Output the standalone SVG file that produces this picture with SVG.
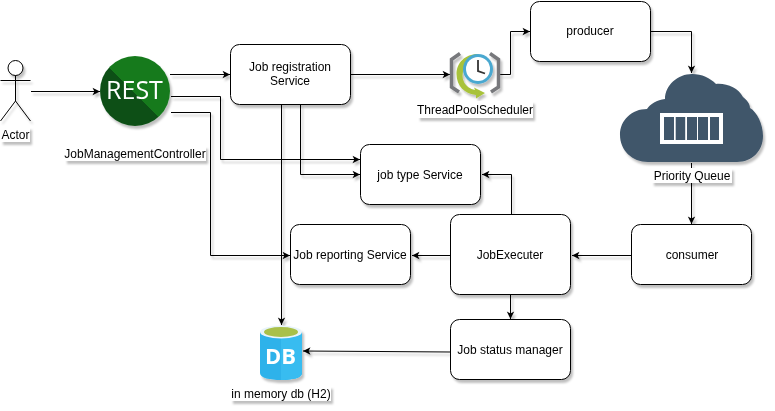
<svg xmlns="http://www.w3.org/2000/svg" width="775" height="411" viewBox="0 0 775 411">
<style>
text{font-family:"Liberation Sans",Arial,sans-serif;font-size:12px;fill:#000;text-anchor:middle}
.box{fill:#fff;stroke:#000;stroke-width:1}
.lbl{fill:#fff}
.c{fill:none;stroke:#000;stroke-width:1;marker-end:url(#a)}
.s{filter:url(#sh)}
</style>
<defs>
<marker id="a" markerUnits="userSpaceOnUse" markerWidth="10" markerHeight="10" refX="8" refY="4.5" orient="auto"><path d="M0.5 0.8L8 4.5L0.5 8.2L2.4 4.5Z" fill="#000"/></marker>
<filter id="sh" x="-20%" y="-20%" width="150%" height="150%"><feDropShadow dx="2" dy="3" stdDeviation="1.2" flood-color="#000" flood-opacity="0.25"/></filter>
<linearGradient id="rest" x1="0" y1="1" x2="1" y2="0"><stop offset="0.48" stop-color="#0b5016"/><stop offset="0.48" stop-color="#157a1c"/></linearGradient>
</defs>
<g id="connectors" class="s">
<path class="c" d="M31 91.500H100"/>
<path class="c" d="M170 74.500H230"/>
<path class="c" d="M171 96.500H220.500V159.500H360"/>
<path class="c" d="M171 112.500H210.500V255.500H290"/>
<path class="c" d="M281.500 104.500V325"/>
<path class="c" d="M300.500 104.500V174.500H360"/>
<path class="c" d="M351 74.500H450"/>
<path class="c" d="M500 74.500H510.500V31.500H530"/>
<path class="c" d="M650 31.500H691.500V73"/>
<path class="c" d="M691.500 163V224"/>
<path class="c" d="M632 255.500H572"/>
<path class="c" d="M451 255.500H412"/>
<path class="c" d="M511.500 215V174.500H482"/>
<path class="c" d="M510.500 295V319"/>
<path class="c" d="M451 352L303 351"/>
</g>
<g id="actor" class="s" fill="none" stroke="#000">
<circle cx="15.500" cy="68" r="7.500" fill="#fff"/>
<path d="M15.500 75.500V101M0.500 80.500H30.500M15.500 101L0.500 121M15.500 101L30.500 121"/>
</g>
<g id="actor-label" class="s"><rect class="lbl" x="1" y="127" width="29" height="15"/><text x="15.500" y="139">Actor</text></g>
<g id="rest" class="s">
<circle cx="135" cy="91" r="35" fill="url(#rest)"/>
<text x="134.500" y="99" style="font-family:'Open Sans','Noto Sans',sans-serif;font-size:25px;fill:#fff">REST</text>
</g>
<g id="controller-label" class="s"><rect class="lbl" x="65" y="146" width="141" height="15"/><text x="135" y="158">JobManagementController</text></g>
<g id="job-registration" class="s"><rect class="box" x="230.500" y="44.500" width="120" height="60" rx="9"/><text x="290" y="71">Job registration</text><text x="290" y="85">Service</text></g>
<g id="scheduler" class="s">
<path d="M460 53.500L451.500 59.500V87L459 92" fill="none" stroke="#77787b" stroke-width="3.500"/>
<path d="M490 53.500L498.500 59.500V87L491 92" fill="none" stroke="#77787b" stroke-width="3.500"/>
<path d="M478 54C465 54 456.500 63 456.500 74C456.500 86 465 94 476 95L476 98.500L485 93L474 87.500L475 90C470 89 466 86 464 82C460 74 464 62 478 54Z" fill="#a8c23a"/>
<circle cx="478" cy="69" r="15" fill="#4aa8d0"/>
<circle cx="478" cy="69" r="12" fill="#fff"/>
<path d="M478 60V71L485 73.500" fill="none" stroke="#333" stroke-width="1.800"/>
</g>
<g id="scheduler-label" class="s"><rect class="lbl" x="418" y="101" width="115" height="17"/><text x="475" y="114">ThreadPoolScheduler</text></g>
<g id="producer" class="s"><rect class="box" x="530.500" y="1.500" width="120" height="60" rx="9"/><text x="590" y="35">producer</text></g>
<g id="queue" class="s">
<path d="M648 162C632 162 620 150 620 135C620 120 632 109 647 109C650 104 657 100 665 99C665 85 678 74 692 74C702 74 710 78 716 84C727 83 738 88 743 97C747 100 750 104 750 108C757 112 763 124 763 136C763 151 752 162 737 162Z" fill="#40566a"/>
<rect x="660" y="113" width="63" height="31" fill="#fff"/>
<path d="M664 117h10v23h-10zM675.700 117h9.500v23h-9.500zM687 117h10v23h-10zM698 117h10v23h-10zM710 117h9v23h-9z" fill="#40566a"/>
</g>
<g id="queue-label" class="s"><rect class="lbl" x="652" y="168" width="80" height="15"/><text x="692" y="180">Priority Queue</text></g>
<g id="job-type" class="s"><rect class="box" x="360.500" y="144.500" width="120" height="60" rx="9"/><text x="420" y="179">job type Service</text></g>
<g id="job-reporting" class="s"><rect class="box" x="290.500" y="224.500" width="120" height="60" rx="9"/><text x="350" y="259">Job reporting Service</text></g>
<g id="job-executer" class="s"><rect class="box" x="450.500" y="214.500" width="120" height="80" rx="9"/><text x="510" y="259">JobExecuter</text></g>
<g id="consumer" class="s"><rect class="box" x="631.500" y="224.500" width="120" height="60" rx="9"/><text x="692" y="259">consumer</text></g>
<g id="job-status" class="s"><rect class="box" x="450.500" y="319.500" width="120" height="60" rx="9"/><text x="510" y="354">Job status manager</text></g>
<g id="db" class="s">
<path d="M260 332V373C260 378 270 380 281 380C292 380 302 378 302 373V332Z" fill="#2db2ea"/>
<path d="M281 332H302V373C302 378 292 380 281 380Z" fill="#37bcf0"/>
<ellipse cx="281" cy="332" rx="21" ry="6.500" fill="#e8f4fa"/>
<ellipse cx="281" cy="332" rx="17" ry="5" fill="#a9c04a"/>
<text x="280.500" y="364" style="font-family:'Open Sans','Noto Sans',sans-serif;font-size:22px;font-weight:700;fill:#fff">DB</text>
</g>
<g id="db-label" class="s"><rect class="lbl" x="231" y="386" width="100" height="15"/><text x="281" y="398">in memory db (H2)</text></g>
</svg>
